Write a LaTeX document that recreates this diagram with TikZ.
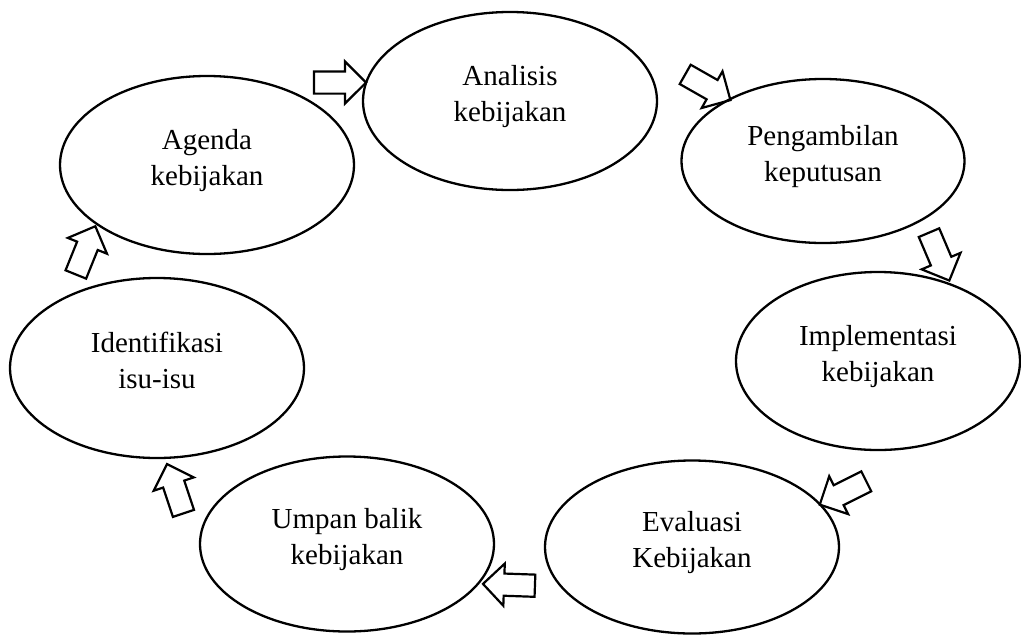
\documentclass[tikz,border=0pt]{standalone}
\usepackage{fontspec}
\setmainfont{Liberation Serif}
\usetikzlibrary{shapes.geometric,shapes.arrows}
\begin{document}
\begin{tikzpicture}[x=1pt, y=-1pt,
    tahap/.style={draw, ellipse, line width=2.3pt, inner sep=0pt,
        minimum width=294pt, minimum height=178pt, align=center,
        font=\fontsize{29}{36.5}\selectfont, text depth=15pt},
    panah/.style={draw, single arrow, line width=2.2pt, inner xsep=0pt, inner ysep=10pt,
        minimum height=52pt, minimum width=0pt, single arrow head extend=10pt}]
    \useasboundingbox (0,0) rectangle (1021,635);

    % Tahapan kebijakan
    \node[tahap] (analisis) at (510,101) {Analisis\\kebijakan};
    \node[tahap, minimum width=283pt, minimum height=164pt] (pengambilan) at (823,161) {Pengambilan\\keputusan};
    \node[tahap, minimum width=284pt] (implementasi) at (878,361) {Implementasi\\kebijakan};
    \node[tahap, minimum height=173pt] (evaluasi) at (692,547) {Evaluasi\\Kebijakan};
    \node[tahap, minimum height=175pt] (umpan) at (347,544) {Umpan balik\\kebijakan};
    \node[tahap, minimum height=180pt] (identifikasi) at (157,368) {Identifikasi\\isu-isu};
    \node[tahap] (agenda) at (207,165) {Agenda\\kebijakan};

    % Panah antar tahap
    \node[panah] (p1) at (334.5,82.5) {};
    \node[panah, rotate=-29.6] (p2) at (703,84.5) {};
    \node[panah, rotate=-67] (p3) at (937,251.5) {};
    \node[panah, rotate=206.6] (p4) at (848,490.5) {};
    \node[panah, rotate=178] (p5) at (514.5,585) {};
    \node[panah, rotate=108.4] (p6) at (177,494) {};
    \node[panah, rotate=68] (p7) at (83.5,255.5) {};
\end{tikzpicture}
\end{document}
